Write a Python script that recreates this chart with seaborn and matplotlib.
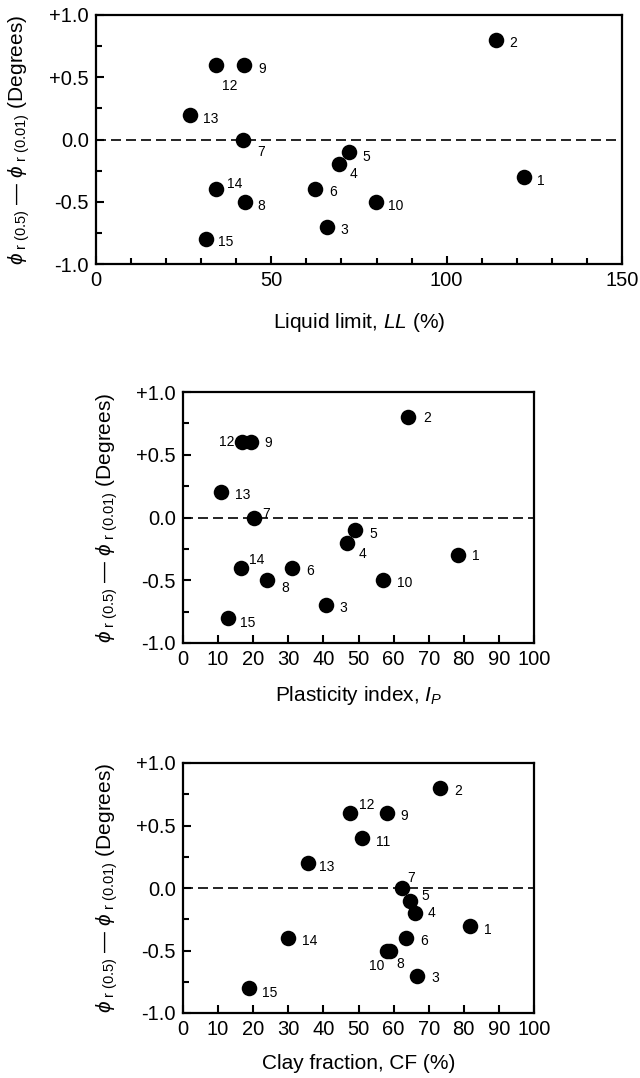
import matplotlib
matplotlib.use('Agg')
import matplotlib.pyplot as plt
import seaborn as sns
import pandas as pd
import numpy as np
from matplotlib.ticker import MultipleLocator

sns.set_style('ticks')
plt.rcParams['font.family'] = ['Liberation Sans', 'DejaVu Sans']
plt.rcParams['mathtext.fontset'] = 'custom'
plt.rcParams['mathtext.rm'] = 'Liberation Sans'
plt.rcParams['mathtext.it'] = 'Liberation Sans:italic'
for k in ['text.color', 'axes.labelcolor', 'xtick.color', 'ytick.color', 'axes.edgecolor']:
    plt.rcParams[k] = 'black'

# data
sample = [1, 2, 3, 4, 5, 6, 7, 8, 9, 10, 11, 12, 13, 14, 15]
dphi = [-0.3, 0.8, -0.7, -0.2, -0.1, -0.4, 0.0, -0.5, 0.6, -0.5, 0.4, 0.6, 0.2, -0.4, -0.8]
liquid_limit = [122, 114, 66, 69.2, 72.1, 62.4, 41.9, 42.4, 42.2, 79.9, np.nan, 34.3, 26.7, 34.3, 31.4]
plasticity = [78.4, 64.0, 40.6, 46.7, 49.0, 31.0, 20.1, 23.9, 19.4, 57.0, np.nan, 16.8, 10.9, 16.4, 12.7]
clay_fraction = [81.9, 73.3, 66.7, 66.2, 64.7, 63.5, 62.4, 59.0, 58.0, 58.0, 50.9, 47.6, 35.5, 30.0, 18.9]

yticks = [-1.0, -0.5, 0.0, 0.5, 1.0]
ytick_labels = ['-1.0', '-0.5', '0.0', '+0.5', '+1.0']

df = pd.DataFrame({'sample': sample, 'dphi': dphi, 'LL': liquid_limit,
                   'PI': plasticity, 'CF': clay_fraction})

# label offsets (pixels, x right / y down)
off1 = {1: (17, 4), 2: (17, 3), 3: (17, 3), 4: (15, 10), 5: (17, 5), 6: (18, 3),
        7: (18, 13), 8: (17, 4), 9: (18, 4), 10: (20, 4), 12: (13, 21), 13: (21, 4),
        14: (18, -5), 15: (20, 3)}
off2 = {1: (18, 1), 2: (20, 1), 3: (18, 3), 4: (16, 11), 5: (18, 4), 6: (18, 3),
        7: (13, -4), 8: (18, 8), 9: (17, 1), 10: (22, 3), 12: (-15, 0), 13: (21, 3),
        14: (16, -8), 15: (20, 5)}
off3 = {1: (17, 4), 2: (18, 3), 3: (18, 3), 4: (16, 0), 5: (15, -4), 6: (18, 3),
        7: (9, -10), 8: (10, 14), 9: (18, 3), 10: (-10, 15), 11: (21, 4), 12: (17, -8),
        13: (19, 4), 14: (21, 3), 15: (20, 5)}

ylab = r'$\phi_{\mathregular{\ r\ (0.5)}}$ — $\phi_{\mathregular{\ r\ (0.01)}}$ (Degrees)'

fig = plt.figure(figsize=(6.4, 10.78), dpi=100)
W, H = 640, 1078
ax1 = fig.add_axes([96 / W, 1 - 264 / H, 526 / W, 249 / H])
ax2 = fig.add_axes([183 / W, 1 - 643 / H, 351 / W, 251 / H])
ax3 = fig.add_axes([183 / W, 1 - 1013 / H, 351 / W, 250 / H])

panels = [
    (ax1, 'LL', off1, (0, 150), 50, 10, r'Liquid limit, $\mathit{LL}$ (%)', -0.122, -0.19),
    (ax2, 'PI', off2, (0, 100), 10, None, r'Plasticity index, $\mathit{I}_{\mathit{P}}$', -0.18, -0.165),
    (ax3, 'CF', off3, (0, 100), 10, None, 'Clay fraction, CF (%)', -0.18, -0.165),
]

for ax, col, offs, xlim, xmaj, xmin, xlab, ylx, xly in panels:
    d = df.dropna(subset=[col])
    ax.axhline(0, color='black', lw=1.2, dashes=(6, 3), zorder=1)
    sns.scatterplot(data=d, x=col, y='dphi', color='black', s=125,
                    linewidth=0, ax=ax, zorder=3, legend=False)
    for _, r in d.iterrows():
        dx, dy = offs[int(r['sample'])]
        ax.annotate(str(int(r['sample'])), xy=(r[col], r['dphi']),
                    xytext=(dx * 0.72, -dy * 0.72), textcoords='offset points',
                    ha='center', va='center', fontsize=10)
    ax.set_xlim(*xlim)
    ax.set_ylim(-1, 1)
    ax.xaxis.set_major_locator(MultipleLocator(xmaj))
    if xmin:
        ax.xaxis.set_minor_locator(MultipleLocator(xmin))
    ax.set_yticks(yticks)
    ax.set_yticklabels(ytick_labels)
    ax.yaxis.set_minor_locator(MultipleLocator(0.25))
    ax.tick_params(which='major', direction='in', length=6, width=1.5, labelsize=14.5, pad=5)
    ax.tick_params(which='minor', direction='in', length=4, width=1.5)
    for s in ax.spines.values():
        s.set_linewidth(1.6)
        s.set_visible(True)
    ax.set_xlabel(xlab, fontsize=15)
    ax.set_ylabel(ylab, fontsize=15)
    ax.yaxis.set_label_coords(ylx, 0.5)
    ax.xaxis.set_label_coords(0.5, xly)

plt.savefig('out.png', dpi=100)
